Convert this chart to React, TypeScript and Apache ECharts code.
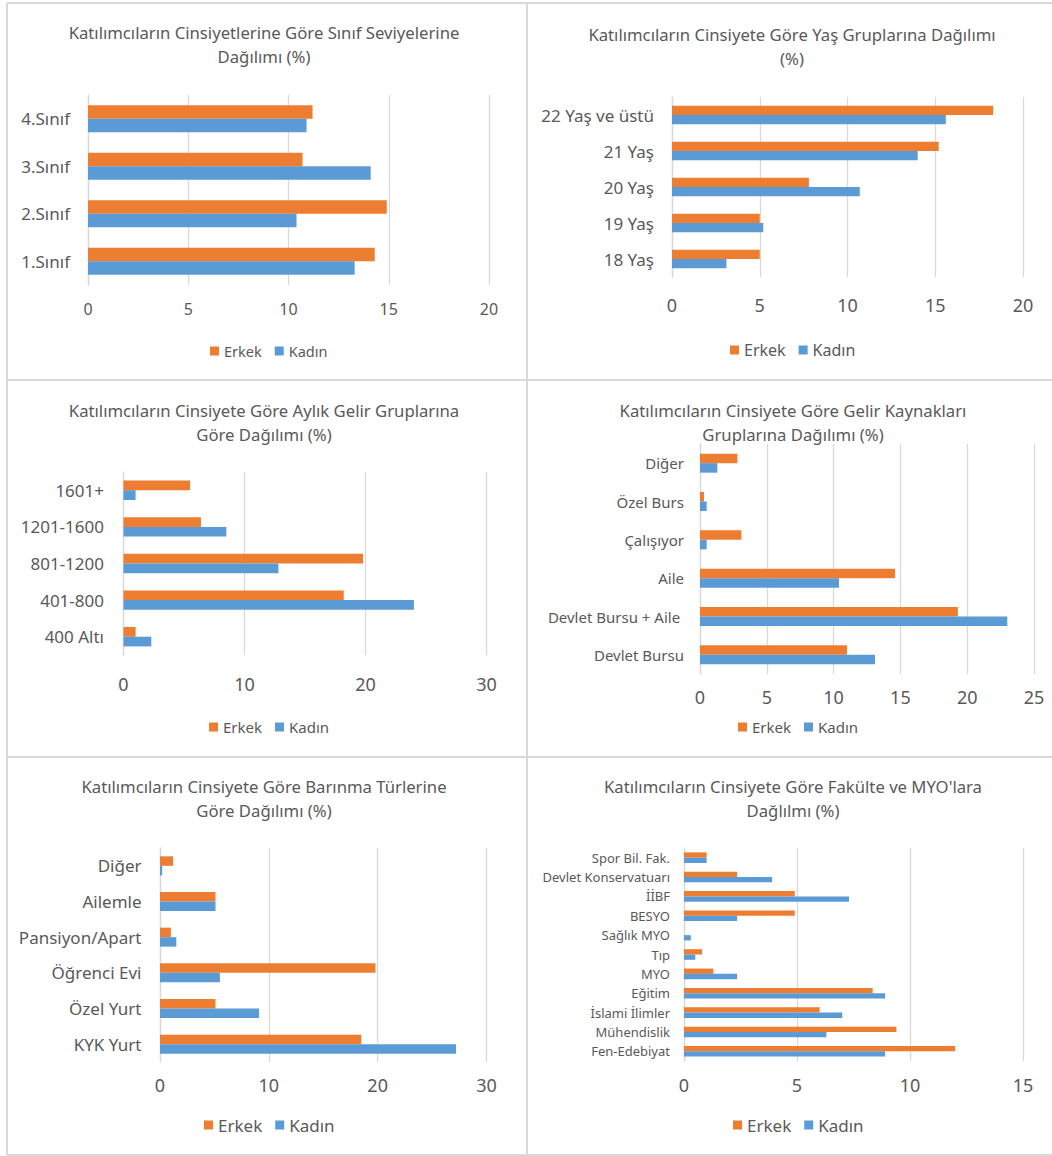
import React, { useEffect, useRef } from 'react';
import * as echarts from 'echarts';

const SERIES_NAMES = ['Erkek', 'Kadın'];

const sinifCategories = ['1.Sınıf', '2.Sınıf', '3.Sınıf', '4.Sınıf'];
const sinifErkek = [14.3, 14.9, 10.7, 11.2];
const sinifKadin = [13.3, 10.4, 14.1, 10.9];

const yasCategories = ['18 Yaş', '19 Yaş', '20 Yaş', '21 Yaş', '22 Yaş ve üstü'];
const yasErkek = [5.0, 5.0, 7.8, 15.2, 18.3];
const yasKadin = [3.1, 5.2, 10.7, 14.0, 15.6];

const gelirCategories = ['400 Altı', '401-800', '801-1200', '1201-1600', '1601+'];
const gelirErkek = [1.0, 18.2, 19.8, 6.4, 5.5];
const gelirKadin = [2.3, 24.0, 12.8, 8.5, 1.0];

const kaynakCategories = ['Devlet Bursu', 'Devlet Bursu + Aile ', 'Aile', 'Çalışıyor', 'Özel Burs', 'Diğer'];
const kaynakErkek = [11.0, 19.3, 14.6, 3.1, 0.3, 2.8];
const kaynakKadin = [13.1, 23.0, 10.4, 0.5, 0.5, 1.3];

const barinmaCategories = ['KYK Yurt', 'Özel Yurt', 'Öğrenci Evi', 'Pansiyon/Apart', 'Ailemle', 'Diğer'];
const barinmaErkek = [18.5, 5.1, 19.8, 1.0, 5.1, 1.2];
const barinmaKadin = [27.2, 9.1, 5.5, 1.5, 5.1, 0.2];

const fakulteCategories = ['Fen-Edebiyat', 'Mühendislik', 'İslami İlimler', 'Eğitim', 'MYO', 'Tıp', 'Sağlık MYO', 'BESYO', 'İİBF', 'Devlet Konservatuarı', 'Spor Bil. Fak.'];
const fakulteErkek = [12.0, 9.4, 6.0, 8.35, 1.3, 0.8, 0, 4.9, 4.9, 2.35, 1.0];
const fakulteKadin = [8.9, 6.3, 7.0, 8.9, 2.35, 0.5, 0.3, 2.35, 7.3, 3.9, 1.0];

const TITLES = [
  'Katılımcıların Cinsiyetlerine Göre Sınıf Seviyelerine\nDağılımı (%)',
  'Katılımcıların Cinsiyete Göre Yaş Gruplarına Dağılımı\n(%)',
  'Katılımcıların Cinsiyete Göre Aylık Gelir Gruplarına\nGöre Dağılımı (%)',
  'Katılımcıların Cinsiyete Göre Gelir Kaynakları\nGruplarına Dağılımı (%)',
  'Katılımcıların Cinsiyete Göre Barınma Türlerine\nGöre Dağılımı (%)',
  "Katılımcıların Cinsiyete Göre Fakülte ve MYO'lara\nDağlılmı (%)",
];
const AXIS_MAX = [20, 20, 30, 25, 30, 15];
const AXIS_INTERVAL = [5, 5, 10, 5, 10, 5];

const PANEL_DATA = [
  { cats: sinifCategories, erkek: sinifErkek, kadin: sinifKadin },
  { cats: yasCategories, erkek: yasErkek, kadin: yasKadin },
  { cats: gelirCategories, erkek: gelirErkek, kadin: gelirKadin },
  { cats: kaynakCategories, erkek: kaynakErkek, kadin: kaynakKadin },
  { cats: barinmaCategories, erkek: barinmaErkek, kadin: barinmaKadin },
  { cats: fakulteCategories, erkek: fakulteErkek, kadin: fakulteKadin },
];

// layout (positions / sizes / fonts)
const LAYOUT = [
  { grid: [88, 95, 401, 190], titleX: 264, titleY: 32, legendX: 210, legendY: 351, catFont: 17, tickFont: 16, legFont: 14.5, barW: 13.5, catMargin: 18, tickMargin: 16 },
  { grid: [672, 97, 351, 180], titleX: 792, titleY: 34, legendX: 730, legendY: 350, catFont: 17, tickFont: 18, legFont: 16, barW: 9.3, catMargin: 18, tickMargin: 19 },
  { grid: [123.5, 472, 363, 183], titleX: 264, titleY: 410, legendX: 209, legendY: 727, catFont: 17, tickFont: 18, legFont: 15, barW: 9.7, catMargin: 19.5, tickMargin: 20 },
  { grid: [700, 444, 334, 230], titleX: 793, titleY: 410, legendX: 738, legendY: 727, catFont: 15, tickFont: 18, legFont: 15, barW: 9.5, catMargin: 16, tickMargin: 14 },
  { grid: [160, 848, 326.5, 214], titleX: 264, titleY: 786, legendX: 204, legendY: 1125, catFont: 17, tickFont: 18, legFont: 17, barW: 9.5, catMargin: 18.5, tickMargin: 14 },
  { grid: [684, 848, 339, 213], titleX: 793, titleY: 786, legendX: 733, legendY: 1125, catFont: 13, tickFont: 18, legFont: 17, barW: 5.3, catMargin: 14, tickMargin: 15 },
];

const ORANGE = '#ED7D31';
const BLUE = '#5B9BD5';
const TEXT = '#595959';
const GRIDC = '#d9d9d9';
const FONT = '"Noto Sans", "Open Sans", sans-serif';

function buildOption() {
  const grid: any[] = [];
  const xAxis: any[] = [];
  const yAxis: any[] = [];
  const series: any[] = [];
  const legend: any[] = [];
  const graphic: any[] = [];

  PANEL_DATA.forEach((p, i) => {
    const L = LAYOUT[i];
    grid.push({ left: L.grid[0], top: L.grid[1], width: L.grid[2], height: L.grid[3], containLabel: false });
    xAxis.push({
      type: 'value', gridIndex: i, min: 0, max: AXIS_MAX[i], interval: AXIS_INTERVAL[i],
      axisLine: { show: false }, axisTick: { show: false },
      splitLine: { show: true, lineStyle: { color: GRIDC, width: 1.3 } },
      axisLabel: { color: TEXT, fontSize: L.tickFont, fontFamily: FONT, margin: L.tickMargin },
    });
    yAxis.push({
      type: 'category', gridIndex: i, data: p.cats,
      axisLine: { show: true, lineStyle: { color: GRIDC, width: 1.3 } },
      axisTick: { show: false },
      axisLabel: { color: TEXT, fontSize: L.catFont, fontFamily: FONT, margin: L.catMargin, interval: 0 },
    });
    series.push({
      type: 'bar', name: SERIES_NAMES[0], xAxisIndex: i, yAxisIndex: i, data: p.erkek,
      barWidth: L.barW, barGap: '0%', itemStyle: { color: ORANGE },
    });
    series.push({
      type: 'bar', name: SERIES_NAMES[1], xAxisIndex: i, yAxisIndex: i, data: p.kadin,
      barWidth: L.barW, barGap: '0%', itemStyle: { color: BLUE },
    });
    legend.push({
      data: SERIES_NAMES, left: L.legendX, top: L.legendY - 10, padding: 0, itemWidth: 9, itemHeight: 9, itemGap: 13,
      icon: 'rect', textStyle: { color: TEXT, fontSize: L.legFont, fontFamily: FONT, lineHeight: 20 },
      selectedMode: false,
    });
    graphic.push({
      type: 'text', x: L.titleX, y: L.titleY - 12,
      style: { text: TITLES[i], align: 'center', verticalAlign: 'top', fill: TEXT, font: `16.7px ${FONT}`, lineHeight: 24 },
      silent: true,
    });
  });

  const lineStyle = { stroke: GRIDC, lineWidth: 2 };
  const lines = [
    [7, 3, 1052, 3], [7, 3, 7, 1155], [7, 1155, 1052, 1155], [527, 3, 527, 1155],
    [7, 380, 1052, 380], [7, 757, 1052, 757],
  ];
  lines.forEach(([x1, y1, x2, y2]) => {
    graphic.push({ type: 'line', shape: { x1, y1, x2, y2 }, style: lineStyle, silent: true });
  });

  return {
    animation: false,
    backgroundColor: '#ffffff',
    grid, xAxis, yAxis, series, legend, graphic,
  };
}

export default function App() {
  const ref = useRef<HTMLDivElement>(null);
  useEffect(() => {
    if (!ref.current) return;
    const chart = echarts.init(ref.current, undefined, { renderer: 'svg' });
    chart.setOption(buildOption() as any);
    return () => chart.dispose();
  }, []);
  return <div ref={ref} style={{ position: 'absolute', left: 0, top: 0, width: 1052, height: 1156 }} />;
}
